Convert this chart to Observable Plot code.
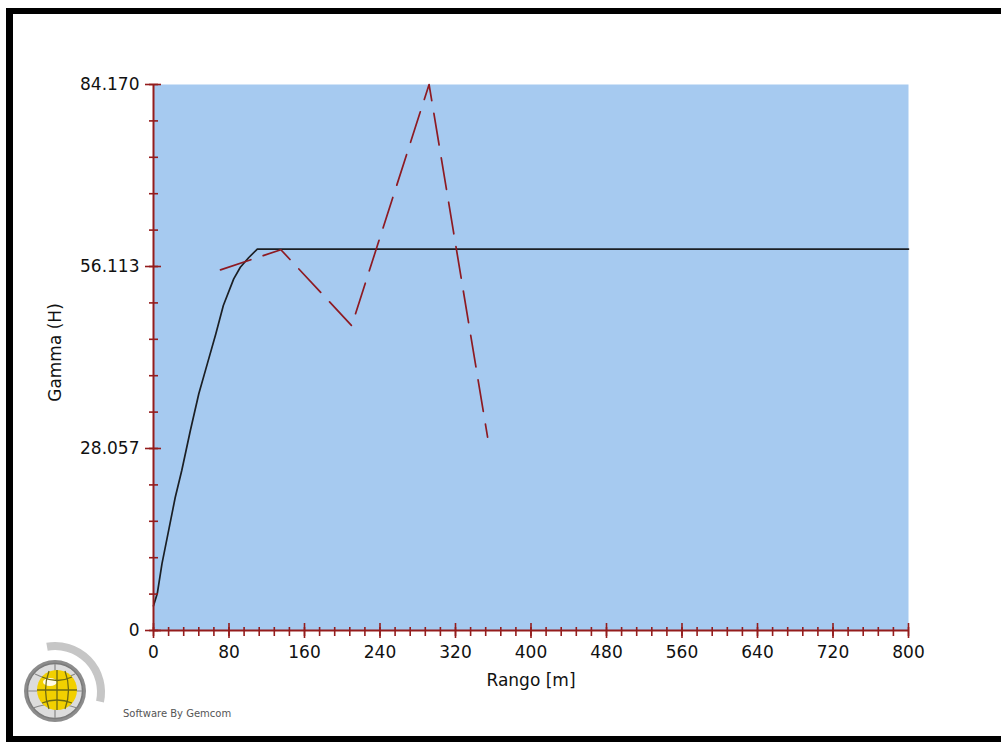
<!DOCTYPE html>
<html><head><meta charset="utf-8">
<script src="https://cdn.jsdelivr.net/npm/d3@7"></script>
<script src="https://cdn.jsdelivr.net/npm/@observablehq/plot@0.6"></script>
<style>
html,body{margin:0;padding:0;background:#fff}
body{width:1001px;height:742px;overflow:hidden;position:relative;font-family:"DejaVu Sans",sans-serif}
#chart{position:absolute;left:0;top:0}
.bar{position:absolute;background:#000}
#logo{position:absolute;left:0;top:0}
#credit{position:absolute;left:123px;top:708px;font-family:"DejaVu Sans",sans-serif;font-size:10px;color:#555;white-space:nowrap}
</style></head><body>
<div id="chart"></div>
<svg id="logo" width="1001" height="742">
  <path d="M47,646.7 A46,46 0 0 1 100,701.6" fill="none" stroke="#c6c6c6" stroke-width="8"/>
  <circle cx="55" cy="691" r="31" fill="#8c8c8c"/>
  <circle cx="55" cy="691" r="27.5" fill="#dcdcdc" stroke="#7a7a7a" stroke-width="1.5"/>
  <path d="M28,691 H82 M55,664 V718 M35,674 Q55,684 75,674 M33,708 Q55,700 77,708" stroke="#888" stroke-width="1.2" fill="none"/>
  <circle cx="57" cy="690" r="20" fill="#f2d000"/>
  <ellipse cx="50" cy="682" rx="7" ry="4" fill="#fffbe6"/>
  <g stroke="#6e6a12" stroke-width="1.3" fill="none">
    <path d="M57,670 V710"/>
    <path d="M37,690 H77"/>
    <path d="M42,677 Q57,684 72,677"/>
    <path d="M42,703 Q57,697 72,703"/>
    <path d="M49,671 Q42,690 49,709"/>
    <path d="M65,671 Q72,690 65,709"/>
  </g>
</svg>
<div id="credit">Software By Gemcom</div>
<div class="bar" style="left:6px;top:8px;width:995px;height:6px"></div>
<div class="bar" style="left:6px;top:8px;width:7px;height:734px"></div>
<div class="bar" style="left:6px;top:736px;width:995px;height:6px"></div>
<script>
// Model (spherical variogram) curve
const modelLag   = [0, 4, 9, 16, 23, 30, 39, 48, 57, 66, 74, 85, 92, 101, 110, 800];
const modelGamma = [3.8, 5.7, 10.3, 15.4, 20.5, 24.7, 30.8, 36.5, 41.1, 45.7, 50.1, 54.2, 56.0, 57.5, 58.8, 58.8];
// Experimental variogram points
const expLag   = [71, 135, 210, 292, 354];
const expGamma = [55.6, 58.7, 47.0, 84.17, 29.8];
// Axis ticks
const xMajor = [0, 80, 160, 240, 320, 400, 480, 560, 640, 720, 800];
const xMinor = d3.range(0, 801, 16);
const yMajor = [0, 28.057, 56.113, 84.170];
const yMajorLabels = ["0", "28.057", "56.113", "84.170"];
const yMinor = d3.range(0, 16).map(i => i * 84.170 / 15);

const modelRows = modelLag.map((h, i) => ({h, g: modelGamma[i]}));
const expRows = expLag.map((h, i) => ({h, g: expGamma[i]}));
const axisColor = "#941c1c";
const font = "DejaVu Sans";

const plot = Plot.plot({
  width: 1001, height: 742,
  marginLeft: 153, marginRight: 93, marginTop: 84, marginBottom: 112,
  x: {domain: [0, 800]},
  y: {domain: [0, 84.17]},
  style: {background: "transparent", fontFamily: font, fontSize: "17px", color: "#111", overflow: "visible"},
  marks: [
    Plot.frame({fill: "#a6caf0", stroke: null}),
    Plot.line(modelRows, {x: "h", y: "g", stroke: "#1b1f24", strokeWidth: 1.7}),
    Plot.line(expRows, {x: "h", y: "g", stroke: "#8e1a22", strokeWidth: 1.7, strokeDasharray: "32,13"}),
    Plot.ruleX([0], {stroke: axisColor, strokeWidth: 2}),
    Plot.ruleY([0], {stroke: axisColor, strokeWidth: 2}),
    Plot.axisX(xMinor, {tickSize: 9, dy: -3, stroke: axisColor, strokeWidth: 1.6, tickFormat: () => "", label: null}),
    Plot.axisX(xMajor, {tickSize: 15, dy: -7, stroke: axisColor, strokeWidth: 1.6, tickFormat: () => "", label: null}),
    Plot.axisX(xMajor, {tickSize: 0, tickPadding: 15, fontSize: 17, fontFamily: font, fill: "#111", label: null}),
    Plot.axisY(yMinor, {tickSize: 9, dx: 5, stroke: axisColor, strokeWidth: 1.6, tickFormat: () => "", label: null}),
    Plot.axisY(yMajor, {tickSize: 16, dx: 8, stroke: axisColor, strokeWidth: 1.6, tickFormat: () => "", label: null}),
    Plot.axisY(yMajor, {tickSize: 0, tickPadding: 14, fontSize: 17, fontFamily: font, fill: "#111", label: null,
      tickFormat: d => yMajorLabels[yMajor.indexOf(d)]}),
    Plot.text(["Rango [m]"], {frameAnchor: "bottom", dy: 50, textAnchor: "middle", lineAnchor: "middle", fontSize: 17, fontFamily: font, fill: "#111"}),
    Plot.text(["Gamma (H)"], {frameAnchor: "left", dx: -98, dy: -5, rotate: -90, textAnchor: "middle", lineAnchor: "middle", fontSize: 17, fontFamily: font, fill: "#111"})
  ]
});
document.getElementById("chart").appendChild(plot);
</script>
</body></html>
